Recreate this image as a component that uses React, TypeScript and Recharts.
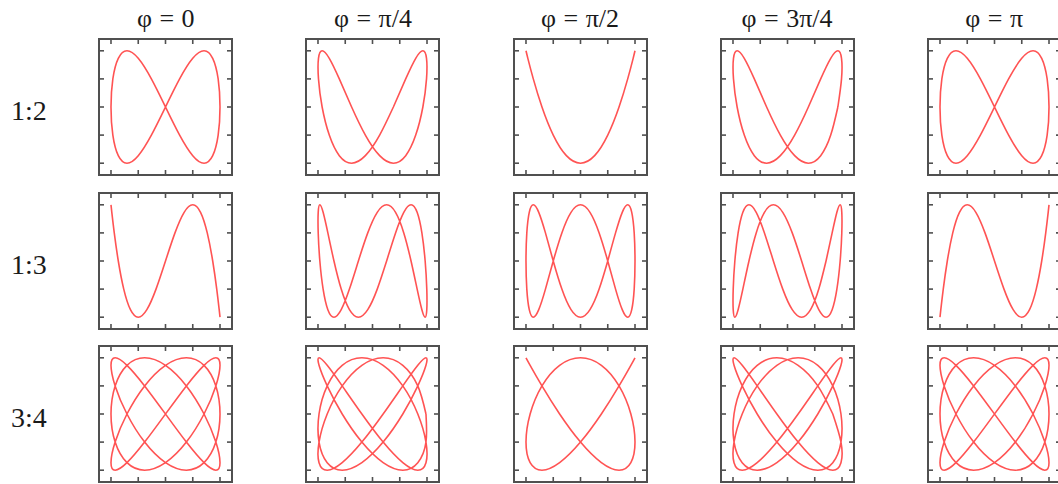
import { LineChart, Line, XAxis, YAxis } from "recharts";

type Pair = [number, number];

const phaseLabels = ["φ = 0", "φ = π/4", "φ = π/2", "φ = 3π/4", "φ = π"];
const ratioLabels = ["1:2", "1:3", "3:4"];
const axisTicks = [-1, -0.5, 0, 0.5, 1];

// 1:2 row
const ratio12Phase0: Pair[] = [
  [0, 0], [0.259, 0.5], [0.5, 0.866], [0.707, 1], [0.866, 0.866], [0.966, 0.5], [1, 0],
  [0.966, -0.5], [0.866, -0.866], [0.707, -1], [0.5, -0.866], [0.259, -0.5], [0, 0],
  [-0.259, 0.5], [-0.5, 0.866], [-0.707, 1], [-0.866, 0.866], [-0.966, 0.5], [-1, 0],
  [-0.966, -0.5], [-0.866, -0.866], [-0.707, -1], [-0.5, -0.866], [-0.259, -0.5], [0, 0],
];
const ratio12Phase45: Pair[] = [
  [0.383, 0], [0.609, 0.5], [0.793, 0.866], [0.924, 1], [0.991, 0.866], [0.991, 0.5], [0.924, 0],
  [0.793, -0.5], [0.609, -0.866], [0.383, -1], [0.131, -0.866], [-0.131, -0.5], [-0.383, 0],
  [-0.609, 0.5], [-0.793, 0.866], [-0.924, 1], [-0.991, 0.866], [-0.991, 0.5], [-0.924, 0],
  [-0.793, -0.5], [-0.609, -0.866], [-0.383, -1], [-0.131, -0.866], [0.131, -0.5], [0.383, 0],
];
const ratio12Phase90: Pair[] = [
  [-1, 1], [-0.966, 0.866], [-0.866, 0.5], [-0.707, 0], [-0.5, -0.5], [-0.259, -0.866], [0, -1],
  [0.259, -0.866], [0.5, -0.5], [0.707, 0], [0.866, 0.5], [0.966, 0.866], [1, 1],
];
const ratio12Phase135: Pair[] = [
  [0.924, 0], [0.991, 0.5], [0.991, 0.866], [0.924, 1], [0.793, 0.866], [0.609, 0.5], [0.383, 0],
  [0.131, -0.5], [-0.131, -0.866], [-0.383, -1], [-0.609, -0.866], [-0.793, -0.5], [-0.924, 0],
  [-0.991, 0.5], [-0.991, 0.866], [-0.924, 1], [-0.793, 0.866], [-0.609, 0.5], [-0.383, 0],
  [-0.131, -0.5], [0.131, -0.866], [0.383, -1], [0.609, -0.866], [0.793, -0.5], [0.924, 0],
];
const ratio12Phase180: Pair[] = [
  [0, 0], [0.259, -0.5], [0.5, -0.866], [0.707, -1], [0.866, -0.866], [0.966, -0.5], [1, 0],
  [0.966, 0.5], [0.866, 0.866], [0.707, 1], [0.5, 0.866], [0.259, 0.5], [0, 0],
  [-0.259, -0.5], [-0.5, -0.866], [-0.707, -1], [-0.866, -0.866], [-0.966, -0.5], [-1, 0],
  [-0.966, 0.5], [-0.866, 0.866], [-0.707, 1], [-0.5, 0.866], [-0.259, 0.5], [0, 0],
];

// 1:3 row
const ratio13Phase0: Pair[] = [
  [-1, 1], [-0.985, 0.866], [-0.94, 0.5], [-0.866, 0], [-0.766, -0.5], [-0.643, -0.866], [-0.5, -1],
  [-0.342, -0.866], [-0.174, -0.5], [0, 0], [0.174, 0.5], [0.342, 0.866], [0.5, 1],
  [0.643, 0.866], [0.766, 0.5], [0.866, 0], [0.94, -0.5], [0.985, -0.866], [1, -1],
];
const ratio13Phase45: Pair[] = [
  [0.259, 0], [0.423, 0.5], [0.574, 0.866], [0.707, 1], [0.819, 0.866], [0.906, 0.5], [0.966, 0],
  [0.996, -0.5], [0.996, -0.866], [0.966, -1], [0.906, -0.866], [0.819, -0.5], [0.707, 0],
  [0.574, 0.5], [0.423, 0.866], [0.259, 1], [0.087, 0.866], [-0.087, 0.5], [-0.259, 0],
  [-0.423, -0.5], [-0.574, -0.866], [-0.707, -1], [-0.819, -0.866], [-0.906, -0.5], [-0.966, 0],
  [-0.996, 0.5], [-0.996, 0.866], [-0.966, 1], [-0.906, 0.866], [-0.819, 0.5], [-0.707, 0],
  [-0.574, -0.5], [-0.423, -0.866], [-0.259, -1], [-0.087, -0.866], [0.087, -0.5], [0.259, 0],
];
const ratio13Phase90: Pair[] = [
  [0.5, 0], [0.643, 0.5], [0.766, 0.866], [0.866, 1], [0.94, 0.866], [0.985, 0.5], [1, 0],
  [0.985, -0.5], [0.94, -0.866], [0.866, -1], [0.766, -0.866], [0.643, -0.5], [0.5, 0],
  [0.342, 0.5], [0.174, 0.866], [0, 1], [-0.174, 0.866], [-0.342, 0.5], [-0.5, 0],
  [-0.643, -0.5], [-0.766, -0.866], [-0.866, -1], [-0.94, -0.866], [-0.985, -0.5], [-1, 0],
  [-0.985, 0.5], [-0.94, 0.866], [-0.866, 1], [-0.766, 0.866], [-0.643, 0.5], [-0.5, 0],
  [-0.342, -0.5], [-0.174, -0.866], [0, -1], [0.174, -0.866], [0.342, -0.5], [0.5, 0],
];
const ratio13Phase135: Pair[] = [
  [0.707, 0], [0.819, 0.5], [0.906, 0.866], [0.966, 1], [0.996, 0.866], [0.996, 0.5], [0.966, 0],
  [0.906, -0.5], [0.819, -0.866], [0.707, -1], [0.574, -0.866], [0.423, -0.5], [0.259, 0],
  [0.087, 0.5], [-0.087, 0.866], [-0.259, 1], [-0.423, 0.866], [-0.574, 0.5], [-0.707, 0],
  [-0.819, -0.5], [-0.906, -0.866], [-0.966, -1], [-0.996, -0.866], [-0.996, -0.5], [-0.966, 0],
  [-0.906, 0.5], [-0.819, 0.866], [-0.707, 1], [-0.574, 0.866], [-0.423, 0.5], [-0.259, 0],
  [-0.087, -0.5], [0.087, -0.866], [0.259, -1], [0.423, -0.866], [0.574, -0.5], [0.707, 0],
];
const ratio13Phase180: Pair[] = [
  [-1, -1], [-0.985, -0.866], [-0.94, -0.5], [-0.866, 0], [-0.766, 0.5], [-0.643, 0.866], [-0.5, 1],
  [-0.342, 0.866], [-0.174, 0.5], [0, 0], [0.174, -0.5], [0.342, -0.866], [0.5, -1],
  [0.643, -0.866], [0.766, -0.5], [0.866, 0], [0.94, 0.5], [0.985, 0.866], [1, 1],
];

// 3:4 row
const ratio34Phase0: Pair[] = [
  [0, 0], [0.383, 0.5], [0.707, 0.866], [0.924, 1], [1, 0.866], [0.924, 0.5], [0.707, 0],
  [0.383, -0.5], [0, -0.866], [-0.383, -1], [-0.707, -0.866], [-0.924, -0.5], [-1, 0],
  [-0.924, 0.5], [-0.707, 0.866], [-0.383, 1], [0, 0.866], [0.383, 0.5], [0.707, 0],
  [0.924, -0.5], [1, -0.866], [0.924, -1], [0.707, -0.866], [0.383, -0.5], [0, 0],
  [-0.383, 0.5], [-0.707, 0.866], [-0.924, 1], [-1, 0.866], [-0.924, 0.5], [-0.707, 0],
  [-0.383, -0.5], [0, -0.866], [0.383, -1], [0.707, -0.866], [0.924, -0.5], [1, 0],
  [0.924, 0.5], [0.707, 0.866], [0.383, 1], [0, 0.866], [-0.383, 0.5], [-0.707, 0],
  [-0.924, -0.5], [-1, -0.866], [-0.924, -1], [-0.707, -0.866], [-0.383, -0.5], [0, 0],
];
const ratio34Phase45: Pair[] = [
  [0.981, 0], [0.981, -0.5], [0.831, -0.866], [0.556, -1], [0.195, -0.866], [-0.195, -0.5], [-0.556, 0],
  [-0.831, 0.5], [-0.981, 0.866], [-0.981, 1], [-0.831, 0.866], [-0.556, 0.5], [-0.195, 0],
  [0.195, -0.5], [0.556, -0.866], [0.831, -1], [0.981, -0.866], [0.981, -0.5], [0.831, 0],
  [0.556, 0.5], [0.195, 0.866], [-0.195, 1], [-0.556, 0.866], [-0.831, 0.5], [-0.981, 0],
  [-0.981, -0.5], [-0.831, -0.866], [-0.556, -1], [-0.195, -0.866], [0.195, -0.5], [0.556, 0],
  [0.831, 0.5], [0.981, 0.866], [0.981, 1], [0.831, 0.866], [0.556, 0.5], [0.195, 0],
  [-0.195, -0.5], [-0.556, -0.866], [-0.831, -1], [-0.981, -0.866], [-0.981, -0.5], [-0.831, 0],
  [-0.556, 0.5], [-0.195, 0.866], [0.195, 1], [0.556, 0.866], [0.831, 0.5], [0.981, 0],
];
const ratio34Phase90: Pair[] = [
  [-1, 1], [-0.924, 0.866], [-0.707, 0.5], [-0.383, 0], [0, -0.5], [0.383, -0.866], [0.707, -1],
  [0.924, -0.866], [1, -0.5], [0.924, 0], [0.707, 0.5], [0.383, 0.866], [0, 1],
  [-0.383, 0.866], [-0.707, 0.5], [-0.924, 0], [-1, -0.5], [-0.924, -0.866], [-0.707, -1],
  [-0.383, -0.866], [0, -0.5], [0.383, 0], [0.707, 0.5], [0.924, 0.866], [1, 1],
];
const ratio34Phase135: Pair[] = [
  [0.831, 0], [0.981, -0.5], [0.981, -0.866], [0.831, -1], [0.556, -0.866], [0.195, -0.5], [-0.195, 0],
  [-0.556, 0.5], [-0.831, 0.866], [-0.981, 1], [-0.981, 0.866], [-0.831, 0.5], [-0.556, 0],
  [-0.195, -0.5], [0.195, -0.866], [0.556, -1], [0.831, -0.866], [0.981, -0.5], [0.981, 0],
  [0.831, 0.5], [0.556, 0.866], [0.195, 1], [-0.195, 0.866], [-0.556, 0.5], [-0.831, 0],
  [-0.981, -0.5], [-0.981, -0.866], [-0.831, -1], [-0.556, -0.866], [-0.195, -0.5], [0.195, 0],
  [0.556, 0.5], [0.831, 0.866], [0.981, 1], [0.981, 0.866], [0.831, 0.5], [0.556, 0],
  [0.195, -0.5], [-0.195, -0.866], [-0.556, -1], [-0.831, -0.866], [-0.981, -0.5], [-0.981, 0],
  [-0.831, 0.5], [-0.556, 0.866], [-0.195, 1], [0.195, 0.866], [0.556, 0.5], [0.831, 0],
];
const ratio34Phase180: Pair[] = [
  [0, 0], [0.383, -0.5], [0.707, -0.866], [0.924, -1], [1, -0.866], [0.924, -0.5], [0.707, 0],
  [0.383, 0.5], [0, 0.866], [-0.383, 1], [-0.707, 0.866], [-0.924, 0.5], [-1, 0],
  [-0.924, -0.5], [-0.707, -0.866], [-0.383, -1], [0, -0.866], [0.383, -0.5], [0.707, 0],
  [0.924, 0.5], [1, 0.866], [0.924, 1], [0.707, 0.866], [0.383, 0.5], [0, 0],
  [-0.383, -0.5], [-0.707, -0.866], [-0.924, -1], [-1, -0.866], [-0.924, -0.5], [-0.707, 0],
  [-0.383, 0.5], [0, 0.866], [0.383, 1], [0.707, 0.866], [0.924, 0.5], [1, 0],
  [0.924, -0.5], [0.707, -0.866], [0.383, -1], [0, -0.866], [-0.383, -0.5], [-0.707, 0],
  [-0.924, 0.5], [-1, 0.866], [-0.924, 1], [-0.707, 0.866], [-0.383, 0.5], [0, 0],
];

const curveRows: Pair[][][] = [
  [ratio12Phase0, ratio12Phase45, ratio12Phase90, ratio12Phase135, ratio12Phase180],
  [ratio13Phase0, ratio13Phase45, ratio13Phase90, ratio13Phase135, ratio13Phase180],
  [ratio34Phase0, ratio34Phase45, ratio34Phase90, ratio34Phase135, ratio34Phase180],
];

const X_LIMIT = 1.22;
const Y_LIMIT = 1.21;
const PLOT_W = 133;
const PLOT_H = 136;
const PAD = 2;
const COL_X = 99.3;
const COL_STEP = 207.1;
const ROW_Y = 39.3;
const ROW_STEP = 153.4;

const FRAME = "#505050";
const CURVE = "#ff4040";
const SERIF = "'Liberation Serif', 'DejaVu Serif', serif";

const axisLine = { stroke: FRAME, strokeWidth: 2, strokeLinecap: "square" as const };
const tickLine = { stroke: FRAME, strokeWidth: 1.6 };
// keep tick marks, drop the tick labels
const noLabel = () => <g />;

function Panel({ points, left, top }: { points: Pair[]; left: number; top: number }) {
  const data = points.map(([x, y]) => ({ x, y }));
  const shared = { type: "number" as const, ticks: axisTicks, allowDataOverflow: true, mirror: true,
    tick: noLabel, tickSize: 5, axisLine, tickLine, interval: 0 as const };
  return (
    <div style={{ position: "absolute", left: left - PAD, top: top - PAD }}>
      <LineChart
        width={PLOT_W + 2 * PAD}
        height={PLOT_H + 2 * PAD}
        data={data}
        margin={{ top: PAD, right: PAD, bottom: PAD, left: PAD }}
      >
        <XAxis xAxisId="bottom" dataKey="x" domain={[-X_LIMIT, X_LIMIT]} orientation="bottom" {...shared} />
        <XAxis xAxisId="top" dataKey="x" domain={[-X_LIMIT, X_LIMIT]} orientation="top" {...shared} />
        <YAxis yAxisId="left" domain={[-Y_LIMIT, Y_LIMIT]} orientation="left" {...shared} />
        <YAxis yAxisId="right" domain={[-Y_LIMIT, Y_LIMIT]} orientation="right" {...shared} />
        <Line xAxisId="bottom" yAxisId="left" dataKey="y" type="natural" dot={false} activeDot={false}
          stroke={CURVE} strokeWidth={1.6} strokeOpacity={0.9} strokeLinejoin="round" isAnimationActive={false} />
      </LineChart>
    </div>
  );
}

export default function App() {
  return (
    <div style={{ position: "absolute", left: 0, top: 0, width: 1058, height: 484, overflow: "hidden", background: "#fff" }}>
      <svg width={1058} height={484} style={{ position: "absolute", left: 0, top: 0 }}>
        {phaseLabels.map((label, i) => (
          <text key={label} x={COL_X + i * COL_STEP + PLOT_W / 2} y={27} textAnchor="middle"
            fontFamily={SERIF} fontSize={26} wordSpacing={1} fill="#1a1a1a">
            {label}
          </text>
        ))}
        {ratioLabels.map((label, j) => (
          <text key={label} x={11} y={ROW_Y + j * ROW_STEP + 81} fontFamily={SERIF} fontSize={28} fill="#1a1a1a">
            {label}
          </text>
        ))}
      </svg>
      {curveRows.map((row, j) =>
        row.map((points, i) => (
          <Panel key={`${j}-${i}`} points={points} left={COL_X + i * COL_STEP} top={ROW_Y + j * ROW_STEP} />
        ))
      )}
    </div>
  );
}
